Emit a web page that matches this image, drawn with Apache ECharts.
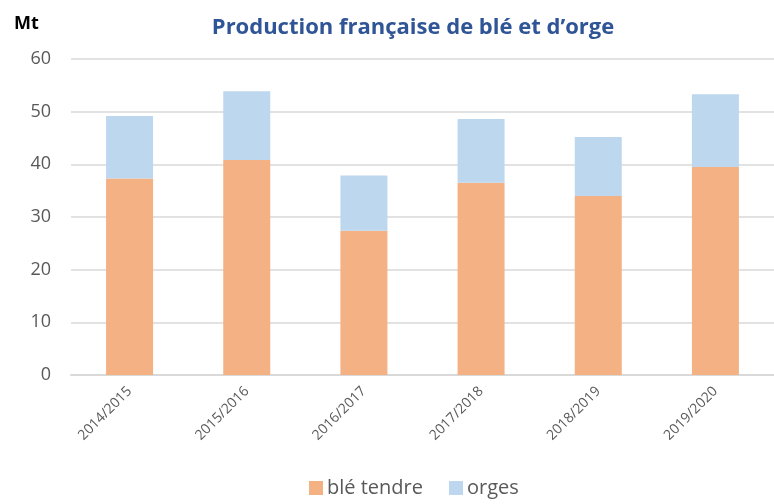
<!DOCTYPE html>
<html>
<head>
<meta charset="utf-8">
<script src="https://cdn.jsdelivr.net/npm/echarts@6/dist/echarts.min.js"></script>
<style>
    html, body { margin: 0; padding: 0; background: #fff; }
    #chart { width: 774px; height: 504px; }
</style>
</head>
<body>
<div id="chart"></div>
<script>
    var campagnes = ['2014/2015', '2015/2016', '2016/2017', '2017/2018', '2018/2019', '2019/2020'];
    var bleTendre = [37.3, 40.8, 27.4, 36.5, 34.0, 39.5];
    var orges = [11.9, 13.1, 10.5, 12.1, 11.2, 13.8];
    var yTicks = [0, 60, 10];

    var font = '"Open Sans", "Noto Sans", sans-serif';
    var chart = echarts.init(document.getElementById('chart'));

    chart.setOption({
        animation: false,
        textStyle: { fontFamily: font },
        title: {
            text: 'Production française de blé et d’orge',
            left: 408,
            textAlign: 'center',
            top: 12,
            textStyle: { color: '#2F5597', fontSize: 22, fontWeight: 'bold', fontFamily: font }
        },
        graphic: [{
            type: 'text',
            left: 14,
            top: 15,
            style: { text: 'Mt', font: 'bold 18px ' + font, fill: '#000' }
        }],
        legend: {
            bottom: 1,
            left: 304,
            itemWidth: 14,
            itemHeight: 14,
            itemGap: 26,
            icon: 'rect',
            textStyle: { color: '#595959', fontSize: 20, padding: [0, 0, 0, -1] },
            data: ['blé tendre', 'orges']
        },
        grid: { left: 71, right: -5, top: 59, bottom: 129 },
        xAxis: {
            type: 'category',
            data: campagnes,
            axisLine: { lineStyle: { color: '#d9d9d9', width: 2 } },
            axisTick: { show: false },
            axisLabel: { rotate: 45, color: '#595959', fontSize: 14, margin: 14 }
        },
        yAxis: {
            type: 'value',
            min: yTicks[0],
            max: yTicks[1],
            interval: yTicks[2],
            axisLine: { show: false },
            axisTick: { show: false },
            axisLabel: { color: '#595959', fontSize: 18, margin: 20 },
            splitLine: { lineStyle: { color: '#d9d9d9', width: 1.5 } }
        },
        series: [{
            name: 'blé tendre',
            type: 'bar',
            stack: 'total',
            barWidth: 47,
            itemStyle: { color: '#F4B183' },
            data: bleTendre
        }, {
            name: 'orges',
            type: 'bar',
            stack: 'total',
            barWidth: 47,
            itemStyle: { color: '#BDD7EE' },
            data: orges
        }]
    });
</script>
</body>
</html>
